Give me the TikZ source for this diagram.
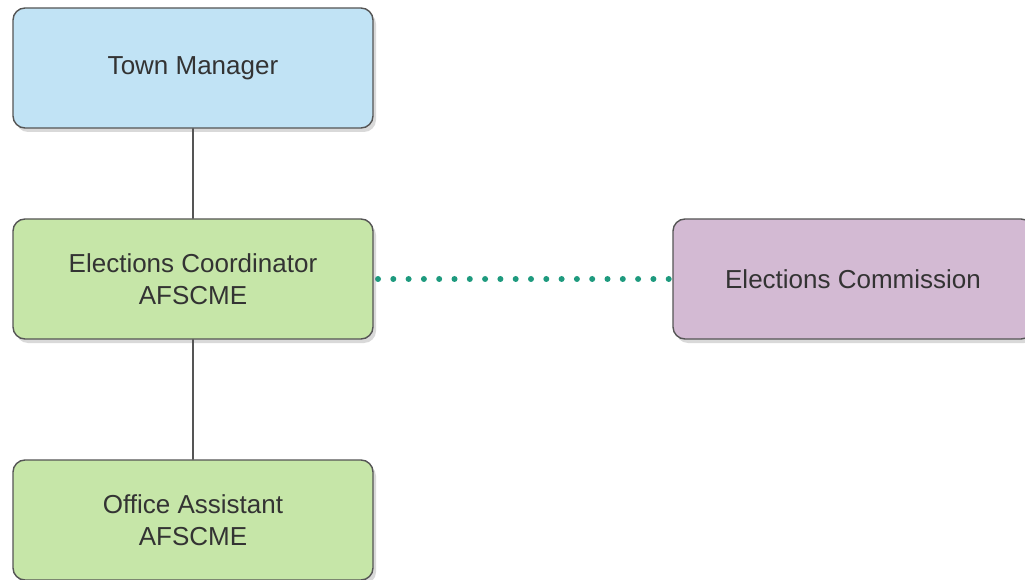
\documentclass[tikz,border=0pt]{standalone}
\usepackage{fontspec}
\setmainfont{Liberation Sans}
\usetikzlibrary{shadows}
\definecolor{tmblue}{HTML}{C1E3F5}
\definecolor{ecgreen}{HTML}{C6E6A8}
\definecolor{cmpurple}{HTML}{D3BAD3}
\definecolor{dotteal}{HTML}{1E9A7E}
\definecolor{txtgray}{HTML}{333333}
\definecolor{rimgray}{HTML}{555555}
\begin{document}
\begin{tikzpicture}[x=1pt, y=1pt, line join=round, line cap=round,
		font=\fontsize{26}{32}\selectfont, text=txtgray,
		unit/.style={draw=rimgray, line width=1.4pt, rounded corners=12pt,
			minimum width=360pt, minimum height=120pt, align=center, inner sep=0pt,
			drop shadow={opacity=0.3, shadow xshift=3pt, shadow yshift=-4pt}},
		link/.style={draw=rimgray, line width=1.5pt},
		dots/.style={draw=dotteal, line width=6pt, dash pattern=on 0pt off 15.3pt}]
	
	\useasboundingbox (0,0) rectangle (1025,579);
	
	\path
		(193,300) coordinate (ec)
		(378,300) coordinate (d_1)
		(673,300) coordinate (d_2)
	;
	
	\draw[dots] (d_1) -- (d_2);
	
	\node[unit, fill=tmblue] (manager) at (193,511) {Town Manager};
	\node[unit, fill=ecgreen] (coord) at (ec) {Elections Coordinator\\AFSCME};
	\node[unit, fill=ecgreen] (assist) at (193,59) {Office Assistant\\AFSCME};
	\node[unit, fill=cmpurple] (commission) at (853,300) {Elections Commission};
	
	\draw[link] (manager) -- (coord);
	\draw[link] (coord) -- (assist);
\end{tikzpicture}
\end{document}
